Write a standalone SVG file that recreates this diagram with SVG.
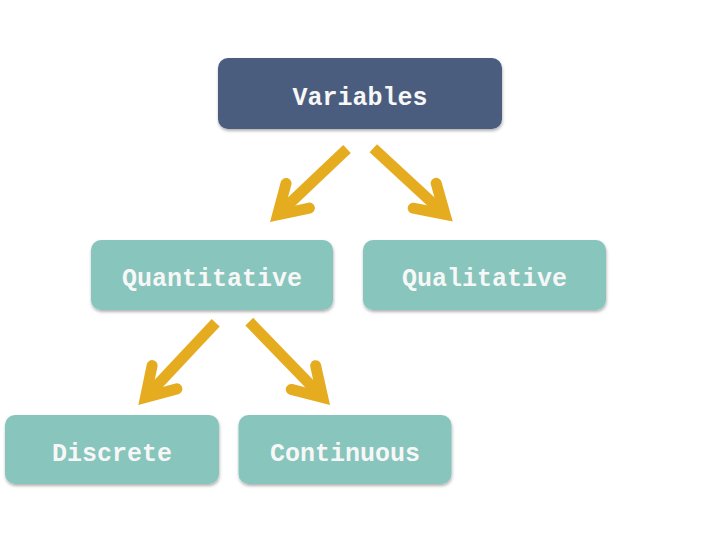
<svg xmlns="http://www.w3.org/2000/svg" width="720" height="540" viewBox="0 0 720 540">
<defs>
<filter id="sh" x="-10%" y="-20%" width="120%" height="150%">
<feDropShadow dx="0.5" dy="2" stdDeviation="1.5" flood-color="#000" flood-opacity="0.3"/>
</filter>
</defs>
<style>
.dark{fill:#4c5d7f;filter:url(#sh)}
.teal{fill:#88c5bc;filter:url(#sh)}
.lbl{font-family:"Liberation Mono","Courier New",monospace;font-weight:bold;font-size:25px;fill:#f7f7f7;text-anchor:middle}
.shaft{fill:none;stroke:#e5ac20;stroke-width:11;stroke-linecap:butt}
.head{fill:none;stroke:#e5ac20;stroke-width:11;stroke-linecap:round;stroke-linejoin:miter;stroke-miterlimit:6}
</style>
<rect width="720" height="540" fill="#ffffff"/>
<g id="connectors">
<g transform="translate(347,149) rotate(136.5)">
<path class="shaft" d="M0,0 H95.6"/>
<path class="head" d="M67.9,-17 L95.6,0 L67.9,17"/>
</g>
<g transform="translate(373.3,148.3) rotate(42.7)">
<path class="shaft" d="M0,0 H97.6"/>
<path class="head" d="M69.9,-17 L97.6,0 L69.9,17"/>
</g>
<g transform="translate(215.7,322.7) rotate(133.2)">
<path class="shaft" d="M0,0 H102.5"/>
<path class="head" d="M74.8,-17 L102.5,0 L74.8,17"/>
</g>
<g transform="translate(249.3,321.7) rotate(45.9)">
<path class="shaft" d="M0,0 H105.5"/>
<path class="head" d="M77.8,-17 L105.5,0 L77.8,17"/>
</g>
</g>
<g id="variables">
<rect class="dark" x="218" y="58" width="284" height="71" rx="10"/>
<text class="lbl" x="360" y="105">Variables</text>
</g>
<g id="quantitative">
<rect class="teal" x="91" y="240" width="242" height="70" rx="10"/>
<text class="lbl" x="212" y="286">Quantitative</text>
</g>
<g id="qualitative">
<rect class="teal" x="363" y="240" width="243" height="70" rx="10"/>
<text class="lbl" x="484.5" y="286">Qualitative</text>
</g>
<g id="discrete">
<rect class="teal" x="5" y="415" width="214" height="69" rx="10"/>
<text class="lbl" x="112" y="461">Discrete</text>
</g>
<g id="continuous">
<rect class="teal" x="238.5" y="415" width="213" height="69" rx="10"/>
<text class="lbl" x="345" y="461">Continuous</text>
</g>
</svg>
